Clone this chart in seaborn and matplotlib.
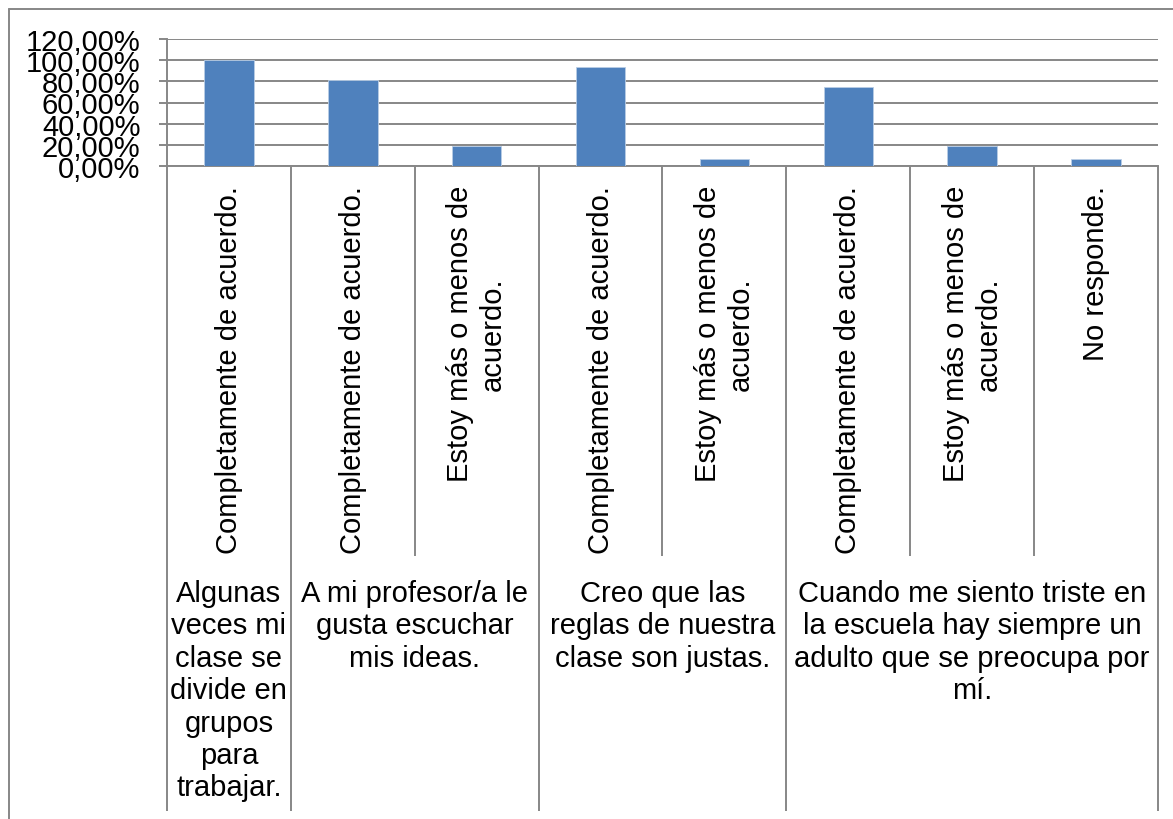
import matplotlib
matplotlib.use("Agg")
import matplotlib.pyplot as plt
from matplotlib.lines import Line2D
import seaborn as sns
import pandas as pd

# Survey responses (share of students) per statement and answer
groups = [
    "Algunas\nveces mi\nclase se\ndivide en\ngrupos\npara\ntrabajar.",
    "A mi profesor/a le\ngusta escuchar\nmis ideas.",
    "Creo que las\nreglas de nuestra\nclase son justas.",
    "Cuando me siento triste en\nla escuela hay siempre un\nadulto que se preocupa por\nmí.",
]
group_sizes = [1, 2, 2, 3]
answers = [
    "Completamente de acuerdo.",
    "Completamente de acuerdo.",
    "Estoy más o menos de\nacuerdo.",
    "Completamente de acuerdo.",
    "Estoy más o menos de\nacuerdo.",
    "Completamente de acuerdo.",
    "Estoy más o menos de\nacuerdo.",
    "No responde.",
]
values = [1.00, 0.8125, 0.1875, 0.9375, 0.0625, 0.75, 0.1875, 0.0625]
yticks = [0.0, 0.2, 0.4, 0.6, 0.8, 1.0, 1.2]
ytick_labels = ["0,00%", "20,00%", "40,00%", "60,00%", "80,00%", "100,00%", "120,00%"]

sns.set_theme(style="white")
plt.rcParams["font.family"] = ["Liberation Sans", "DejaVu Sans"]

W, H = 1173, 820
DPI = 100
BAR = "#4F81BD"
GRID = "#878787"
FS = 21

df = pd.DataFrame({"pos": [str(i) for i in range(len(values))],
                   "valor": values})

fig = plt.figure(figsize=(W / DPI, H / DPI), dpi=DPI)
fig.patch.set_facecolor("white")

x0, x1 = 167, 1158
y_top, y_zero = 40, 167
ax = fig.add_axes([x0 / W, (H - y_zero) / H, (x1 - x0) / W, (y_zero - y_top) / H])

sns.barplot(data=df, x="pos", y="valor", color=BAR, width=0.4,
            saturation=1, ax=ax, zorder=3)
for p in ax.patches:
    p.set_edgecolor("#B9CDE5")
    p.set_linewidth(0.6)

ax.set_xlim(-0.5, len(values) - 0.5)
ax.set_ylim(0, 1.2)
ax.set_yticks(yticks)
ax.set_yticklabels(ytick_labels, fontsize=FS, color="black")
ax.set_xticks([])
ax.set_xlabel("")
ax.set_ylabel("")
ax.yaxis.grid(True, color=GRID, linewidth=1.4, zorder=0)
ax.set_axisbelow(True)
ax.tick_params(axis="y", direction="out", length=6, width=1.4,
               color=GRID, pad=13, left=True)
for side in ["top", "right"]:
    ax.spines[side].set_visible(False)
for side in ["left", "bottom"]:
    ax.spines[side].set_color(GRID)
    ax.spines[side].set_linewidth(1.4)

# Category area below the plot: x in bar units, y in pixel rows
lab = fig.add_axes([x0 / W, 0, (x1 - x0) / W, (H - y_zero) / H])
lab.set_xlim(-0.5, len(values) - 0.5)
lab.set_ylim(H, y_zero)
lab.axis("off")

bounds = [-0.5]
for s in group_sizes:
    bounds.append(bounds[-1] + s)
n = len(values)
for b in [i - 0.5 for i in range(n + 1)]:
    bottom = 812 if b in bounds else 557
    lab.plot([b, b], [y_zero, bottom], color=GRID, linewidth=1.4,
             solid_capstyle="butt", clip_on=False)

for i, txt in enumerate(answers):
    lab.text(i, 186, txt, rotation=90, ha="center", va="top",
             multialignment="center", fontsize=FS, color="black",
             linespacing=1.2)

for g, txt in enumerate(groups):
    cx = (bounds[g] + bounds[g + 1]) / 2
    lab.text(cx, 580, txt, ha="center", va="top", multialignment="center",
             fontsize=FS, color="black", linespacing=1.2)

# Chart area frame (left and top edges)
fig.add_artist(Line2D([9 / W, 9 / W], [0, 1 - 10 / H], color=GRID,
                      linewidth=1.4, transform=fig.transFigure))
fig.add_artist(Line2D([9 / W, 1], [1 - 10 / H, 1 - 10 / H], color=GRID,
                      linewidth=1.4, transform=fig.transFigure))

fig.savefig("out.png", dpi=DPI, facecolor="white")
